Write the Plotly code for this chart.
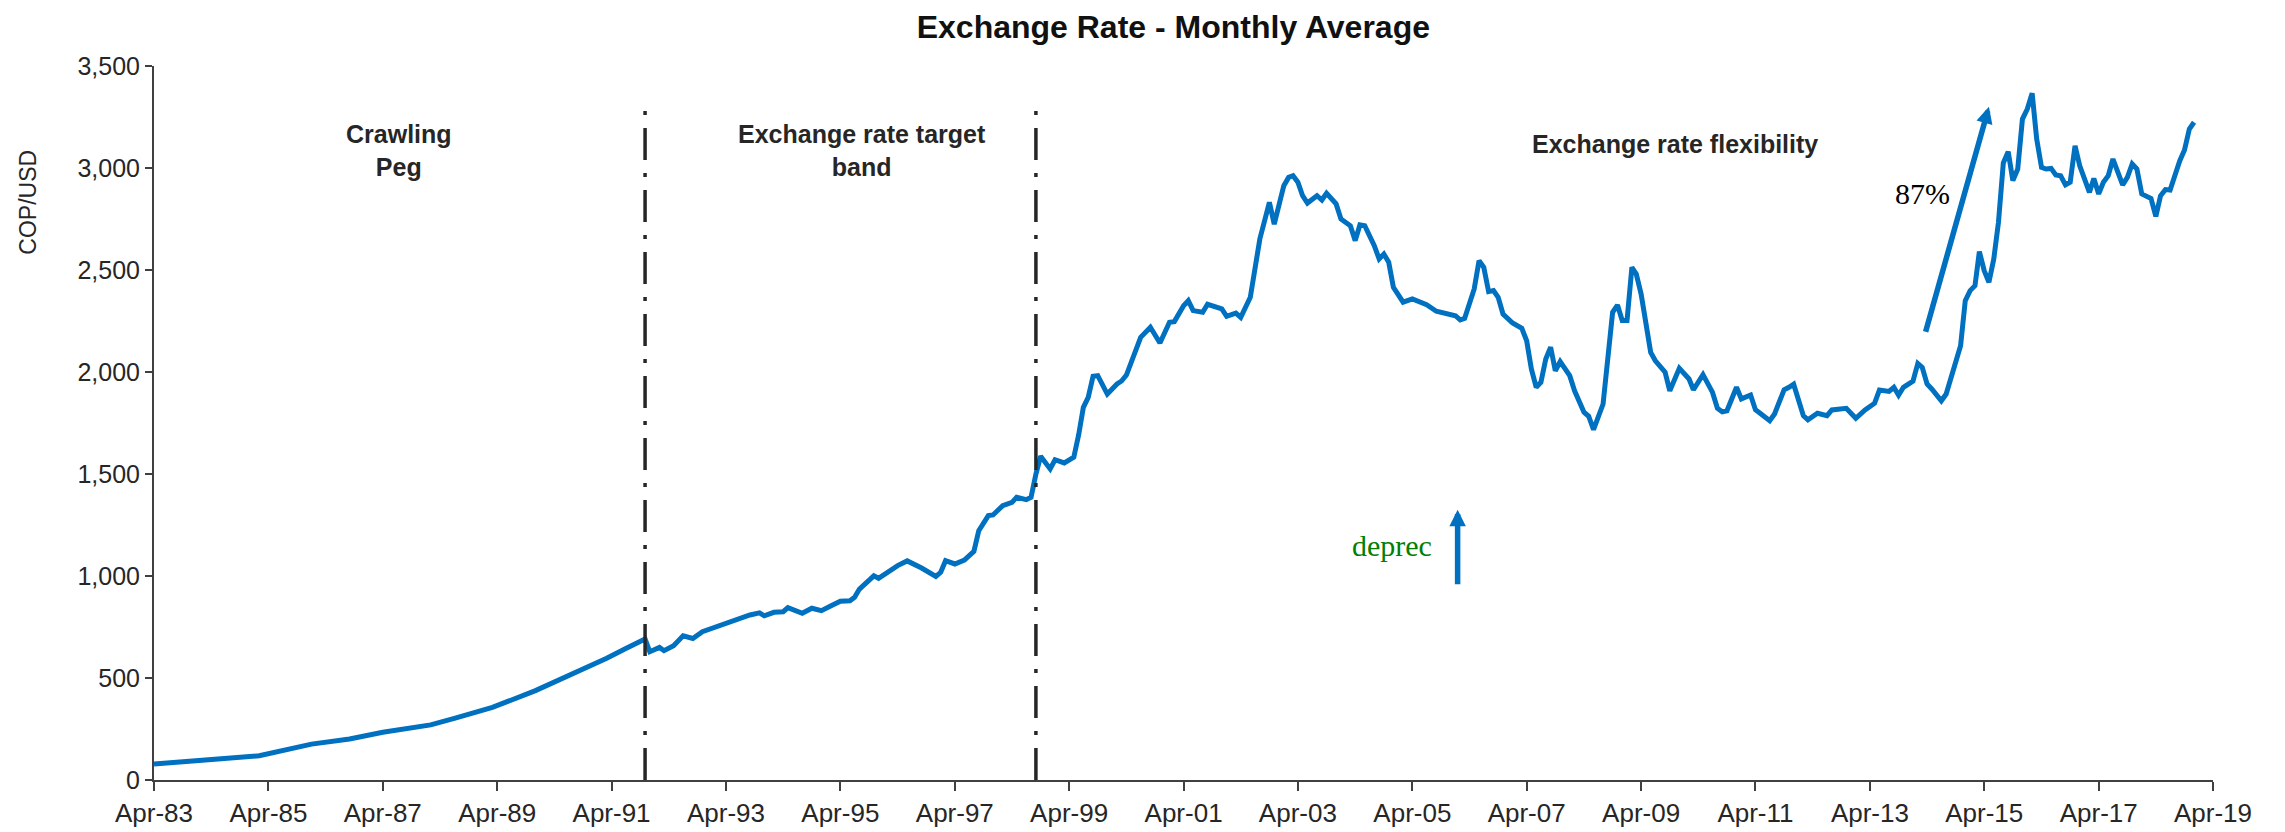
import plotly.graph_objects as go

# Monthly average COP/USD
months = [
    "1983-04", "1985-02", "1986-01", "1986-09", "1987-04", "1988-02", "1988-07",
    "1989-03", "1989-12", "1990-08", "1991-03", "1991-07", "1991-11", "1991-12",
    "1992-02", "1992-03", "1992-05", "1992-07", "1992-09", "1992-11",
    "1993-02", "1993-04", "1993-06", "1993-09", "1993-11", "1993-12",
    "1994-02", "1994-04", "1994-05", "1994-08", "1994-10", "1994-12",
    "1995-02", "1995-04", "1995-06", "1995-07", "1995-08", "1995-10", "1995-11", "1995-12",
    "1996-02", "1996-04", "1996-06", "1996-07", "1996-09", "1996-12",
    "1997-01", "1997-02", "1997-04", "1997-06", "1997-08", "1997-09", "1997-11", "1997-12",
    "1998-02", "1998-04", "1998-05", "1998-07", "1998-08", "1998-09", "1998-10", "1998-12",
    "1999-01", "1999-03", "1999-05", "1999-06", "1999-07", "1999-08", "1999-09", "1999-10", "1999-12",
    "2000-02", "2000-03", "2000-04", "2000-06", "2000-07", "2000-09", "2000-11",
    "2001-01", "2001-02", "2001-04", "2001-05", "2001-06", "2001-08", "2001-09", "2001-12",
    "2002-01", "2002-03", "2002-04", "2002-06", "2002-08", "2002-10", "2002-11",
    "2003-01", "2003-02", "2003-03", "2003-04", "2003-05", "2003-06", "2003-08", "2003-09",
    "2003-10", "2003-12",
    "2004-01", "2004-03", "2004-04", "2004-05", "2004-06", "2004-08", "2004-09", "2004-10",
    "2004-11", "2004-12",
    "2005-02", "2005-04", "2005-07", "2005-09", "2005-11",
    "2006-01", "2006-02", "2006-03", "2006-05", "2006-06", "2006-07", "2006-08", "2006-09",
    "2006-10", "2006-11",
    "2007-01", "2007-03", "2007-04", "2007-05", "2007-06", "2007-07", "2007-08", "2007-09",
    "2007-10", "2007-11",
    "2008-01", "2008-02", "2008-04", "2008-05", "2008-06", "2008-08", "2008-10", "2008-11", "2008-12",
    "2009-01", "2009-02", "2009-03", "2009-04", "2009-06", "2009-07", "2009-09", "2009-10", "2009-12",
    "2010-02", "2010-03", "2010-05", "2010-07", "2010-08", "2010-09", "2010-10", "2010-12",
    "2011-01", "2011-03", "2011-04", "2011-05", "2011-07", "2011-08", "2011-10", "2011-11", "2011-12",
    "2012-02", "2012-03", "2012-05", "2012-07", "2012-08", "2012-11",
    "2013-01", "2013-03", "2013-05", "2013-06", "2013-08", "2013-09", "2013-10", "2013-11",
    "2014-01", "2014-02", "2014-03", "2014-04", "2014-05", "2014-07", "2014-08", "2014-10",
    "2014-11", "2014-12",
    "2015-01", "2015-02", "2015-03", "2015-04", "2015-05", "2015-06", "2015-07", "2015-08",
    "2015-09", "2015-10", "2015-11", "2015-12",
    "2016-01", "2016-02", "2016-03", "2016-04", "2016-05", "2016-06", "2016-07", "2016-08",
    "2016-09", "2016-10", "2016-11", "2016-12",
    "2017-02", "2017-03", "2017-04", "2017-05", "2017-06", "2017-07", "2017-09", "2017-10",
    "2017-11", "2017-12",
    "2018-01", "2018-03", "2018-04", "2018-05", "2018-06", "2018-07", "2018-08", "2018-09",
    "2018-10", "2018-11", "2018-12",
]
cop_usd = [
    78, 119, 176, 201, 234, 270, 302,
    356, 438, 520, 597, 645, 691, 629,
    650, 634, 658, 707, 694, 727,
    752, 770, 789, 809, 819, 805,
    822, 825, 845, 817, 842, 830,
    854, 876, 879, 896, 936, 974, 1001, 989,
    1023, 1051, 1074, 1064, 1039, 998,
    1018, 1075, 1059, 1078, 1121, 1222, 1296, 1299,
    1345, 1361, 1386, 1374, 1386, 1500, 1587, 1525,
    1570, 1554, 1582, 1692, 1827, 1876, 1979, 1982, 1892,
    1941, 1956, 1985, 2121, 2170, 2219, 2142,
    2244, 2247, 2325, 2350, 2301, 2293, 2332, 2309,
    2273, 2289, 2268, 2366, 2652, 2832, 2725,
    2913, 2954, 2962, 2930, 2864, 2828, 2864, 2843,
    2876, 2824,
    2750, 2717, 2644, 2721, 2717, 2619, 2554, 2578,
    2538, 2415,
    2342, 2358, 2330, 2298, 2289,
    2276, 2255, 2263, 2407, 2546, 2513, 2394, 2399,
    2366, 2284,
    2240, 2214, 2153, 2015, 1925, 1950, 2064, 2121,
    2006, 2051,
    1982, 1908, 1803, 1783, 1717, 1843, 2293, 2328, 2252,
    2252, 2513, 2480, 2382, 2096, 2055, 1999, 1908, 2018,
    1966, 1913, 1987, 1900, 1822, 1805, 1810, 1925,
    1868, 1887, 1815, 1798, 1761, 1794, 1913, 1925, 1940,
    1786, 1766, 1798, 1786, 1814, 1822,
    1773, 1814, 1847, 1912, 1905, 1925, 1886, 1925,
    1955, 2042, 2023, 1941, 1917, 1859, 1892, 2048,
    2129, 2350,
    2399, 2423, 2590, 2497, 2440, 2554, 2734, 3025,
    3080, 2938, 2995, 3240,
    3289, 3366, 3142, 3003, 2995, 2998, 2966, 2962,
    2917, 2930, 3109, 3011,
    2881, 2949, 2873, 2930, 2962, 3044, 2917, 2954,
    3020, 2995,
    2873, 2851, 2763, 2864, 2894, 2892, 2971, 3036,
    3088, 3191, 3224,
]

# regime breaks (dash-dot lines)
regime_breaks = ["1991-11-01", "1998-09-01"]
regime_labels = ["Crawling<br>Peg", "Exchange rate target<br>band", "Exchange rate flexibility"]
label_dates = ["1987-07-15", "1995-08-15", "2009-11-01"]
label_levels = [3085, 3085, 3118]

BLUE = "#0070C0"
DARK = "#262626"
SANS = "Liberation Sans, Arial, sans-serif"
SERIF = "Liberation Serif, Times New Roman, serif"

fig = go.Figure()
fig.add_trace(go.Scatter(
    x=months, y=cop_usd, mode="lines",
    line=dict(color=BLUE, width=5),
    showlegend=False,
))

for d in regime_breaks:
    fig.add_shape(type="line", xref="x", yref="y", x0=d, x1=d, y0=0, y1=3310,
                  line=dict(color=DARK, width=3.5, dash="32px,13px,4px,13px"))

for txt, d, lvl in zip(regime_labels, label_dates, label_levels):
    fig.add_annotation(x=d, y=lvl, xref="x", yref="y", text=txt, showarrow=False,
                       font=dict(family=SANS, size=25, color=DARK, weight="bold"),
                       align="center")

# depreciation arrows
fig.add_annotation(x="2015-05-01", y=3300, ax="2014-03-20", ay=2190,
                   xref="x", yref="y", axref="x", ayref="y", text="",
                   showarrow=True, arrowhead=2, arrowsize=0.6, arrowwidth=5.5,
                   arrowcolor=BLUE, standoff=0)
fig.add_annotation(x="2014-03-01", y=2873, xref="x", yref="y", text="87%",
                   showarrow=False, font=dict(family=SERIF, size=30, color="black"))
fig.add_annotation(x="2006-01-15", y=1325, ax="2006-01-15", ay=952,
                   xref="x", yref="y", axref="x", ayref="y", text="",
                   showarrow=True, arrowhead=2, arrowsize=0.6, arrowwidth=5.5,
                   arrowcolor=BLUE, standoff=0)
fig.add_annotation(x="2004-11-20", y=1150, xref="x", yref="y", text="deprec",
                   showarrow=False, font=dict(family=SERIF, size=30, color="#008000"))

fig.add_annotation(x=-0.0612, y=2835, xref="paper", yref="y", text="COP/USD",
                   textangle=-90, showarrow=False, xanchor="center", yanchor="middle",
                   font=dict(family=SANS, size=23, color=DARK))

fig.update_layout(
    width=2285, height=832,
    margin=dict(l=146, r=80, t=58, b=54),
    paper_bgcolor="white", plot_bgcolor="white",
    title=dict(text="Exchange Rate - Monthly Average", x=0.51, xanchor="center",
               y=0.978, yanchor="middle",
               font=dict(family=SANS, size=32, color="#111111", weight="bold")),
)
fig.update_xaxes(
    range=["1983-04-01", "2019-04-01"], tick0="1983-04-01", dtick="M24",
    tickformat="%b-%y", showgrid=False, zeroline=False,
    showline=True, linecolor="#404040", linewidth=2,
    ticks="outside", ticklen=9, tickwidth=2, tickcolor="#404040",
    tickfont=dict(family=SANS, size=26, color=DARK),
)
fig.update_yaxes(
    range=[0, 3500], dtick=500, tickformat=",", showgrid=False, zeroline=False,
    showline=True, linecolor="#404040", linewidth=2,
    ticks="outside", ticklen=7, tickwidth=2, tickcolor="#404040",
    tickfont=dict(family=SANS, size=25, color=DARK),
)

fig.write_html("out.html")
